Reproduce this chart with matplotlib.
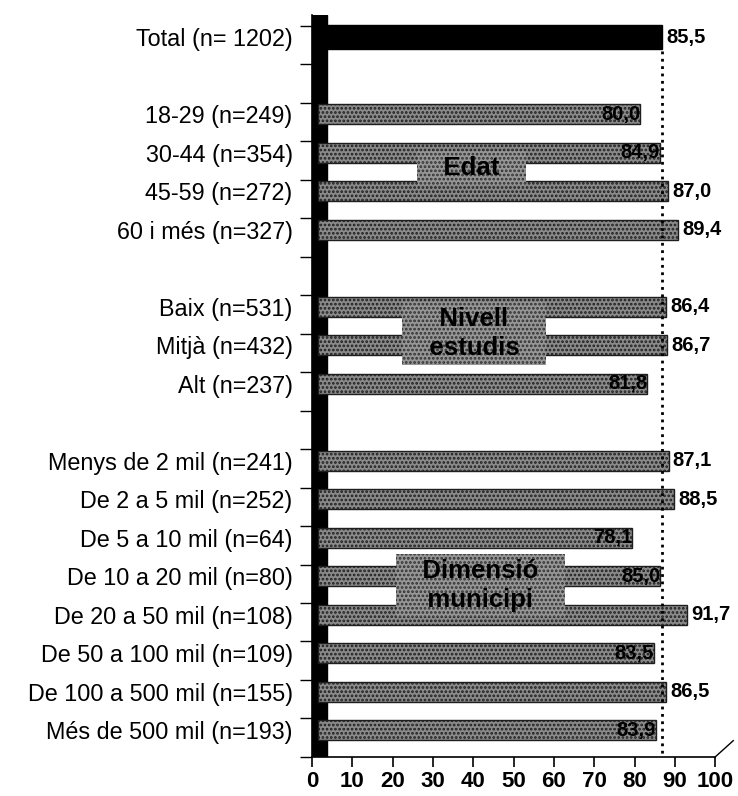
import matplotlib.pyplot as plt
from matplotlib.transforms import offset_copy

# Category labels (top to bottom), None = empty gap row
labels = ['Total (n= 1202)', None,
          '18-29 (n=249)', '30-44 (n=354)', '45-59 (n=272)', '60 i més (n=327)', None,
          'Baix (n=531)', 'Mitjà (n=432)', 'Alt (n=237)', None,
          'Menys de 2 mil (n=241)', 'De 2 a 5 mil (n=252)', 'De 5 a 10 mil (n=64)',
          'De 10 a 20 mil (n=80)', 'De 20 a 50 mil (n=108)', 'De 50 a 100 mil (n=109)',
          'De 100 a 500 mil (n=155)', 'Més de 500 mil (n=193)']
values = [85.5, None,
          80.0, 84.9, 87.0, 89.4, None,
          86.4, 86.7, 81.8, None,
          87.1, 88.5, 78.1, 85.0, 91.7, 83.5, 86.5, 83.9]
groups = ['Edat', 'Nivell\nestudis', 'Dimensió\nmunicipi']
group_pos = [(39.5, 3.4), (40.2, 7.7), (41.7, 14.25)]
total_value = 85.5

plt.rcParams['font.family'] = ['Liberation Sans', 'DejaVu Sans']
plt.rcParams['hatch.linewidth'] = 1.3

fig = plt.figure(figsize=(7.38, 7.96), dpi=100)
ax = fig.add_axes([0.423, 0.049, 0.546, 0.932])

# shift bars a bit to the right, like the depth of the original 3D chart
shifted = offset_copy(ax.transData, fig=fig, x=4, y=0, units='points')

# black side wall of the 3D chart
ax.axvspan(0, 3.6, color='black', zorder=2)

for i, (lab, v) in enumerate(zip(labels, values)):
    if v is None:
        continue
    if i == 0:
        ax.barh(i, v, height=0.62, color='black', edgecolor='black',
                transform=shifted, zorder=3)
    else:
        ax.barh(i, v, height=0.52, facecolor='#8a8a8a', edgecolor='#1e1e1e',
                hatch='....', linewidth=1.0, transform=shifted, zorder=3)
    txt = f'{v:.1f}'.replace('.', ',')
    if v < 85.2 and i != 0:
        ax.text(v, i, txt, transform=shifted, ha='right', va='center',
                fontsize=14.5, fontweight='bold', zorder=5)
    else:
        ax.text(v + 1.0, i, txt, transform=shifted, ha='left', va='center',
                fontsize=14.5, fontweight='bold', zorder=5, clip_on=False)

# dotted reference line at the total value
ax.plot([total_value, total_value], [0.35, 18.64], transform=shifted,
        color='black', linestyle=':', linewidth=2, zorder=4)

# group captions in grey boxes (spaces widen the box)
for g, (gx, gy) in zip(groups, group_pos):
    padded = '\n'.join('   ' + line + '   ' for line in g.split('\n'))
    ax.text(gx, gy, padded, ha='center', va='center', fontsize=18.5,
            fontweight='bold', linespacing=1.25, zorder=6,
            bbox=dict(boxstyle='square,pad=0.2', facecolor='#969696',
                      edgecolor='#303030', linewidth=0, hatch='....'))

ax.set_xlim(0, 100)
ax.set_ylim(18.64, -0.57)
ax.set_xticks(range(0, 101, 10))
ax.tick_params(axis='x', labelsize=16, length=7, width=1.2, direction='out', pad=3)
for t in ax.get_xticklabels():
    t.set_fontweight('bold')

rows = [i for i, lab in enumerate(labels) if lab is not None]
ax.set_yticks(rows)
ax.set_yticklabels([labels[i] for i in rows])
ax.tick_params(axis='y', labelsize=16.8, length=0, pad=14)
ax.set_yticks([i - 0.3 for i in range(len(labels) + 1)], minor=True)
ax.tick_params(axis='y', which='minor', length=9, width=1, direction='out')

ax.spines['top'].set_visible(False)
ax.spines['right'].set_visible(False)
ax.spines['left'].set_linewidth(1.2)
ax.spines['bottom'].set_linewidth(1.2)

# slanted floor edge at the right end of the axis
ax.plot([1.0, 1.045], [0.0, 0.022], transform=ax.transAxes, color='black',
        linewidth=1, clip_on=False)

fig.savefig('out.png', dpi=100)
